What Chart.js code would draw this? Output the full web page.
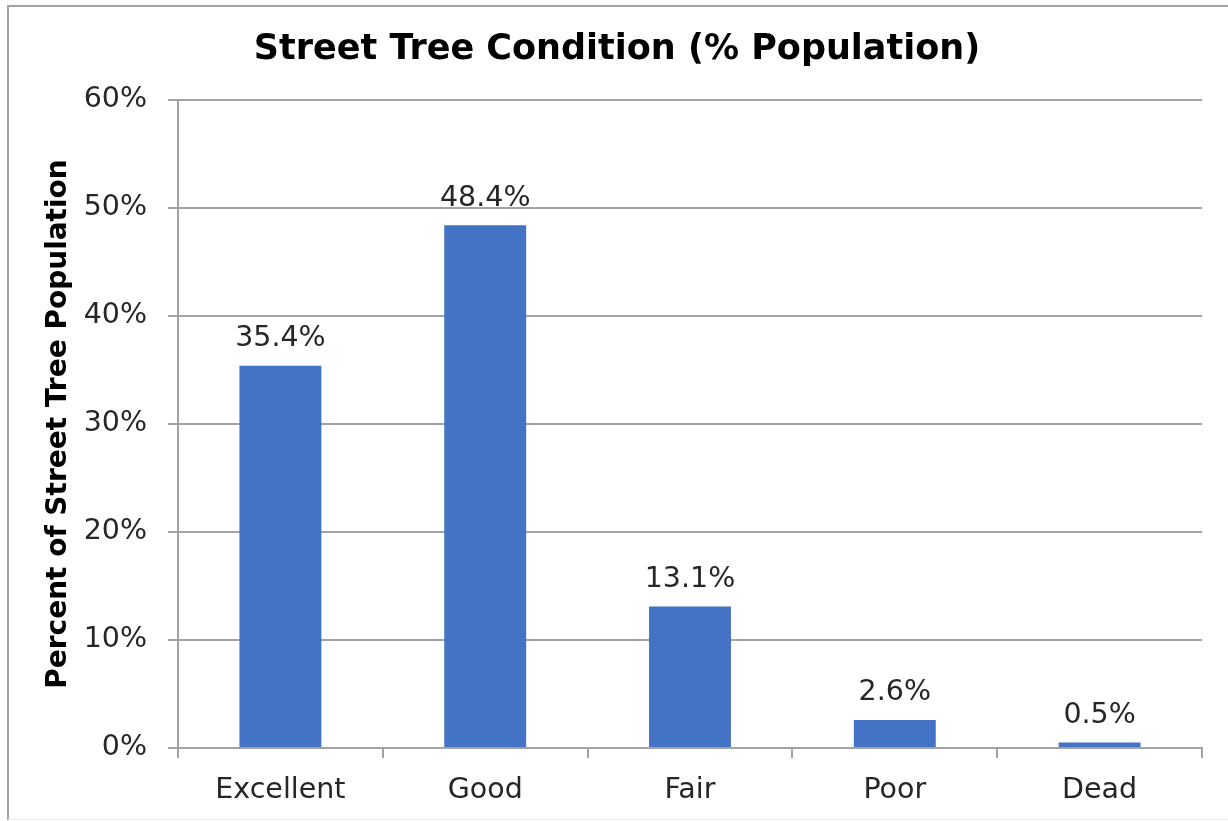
<!DOCTYPE html>
<html>
<head>
<meta charset="utf-8">
<script src="https://cdn.jsdelivr.net/npm/chart.js@4.4.1/dist/chart.umd.min.js"></script>
<style>
  html, body { margin: 0; padding: 0; background: #fff; overflow: hidden; }
  #wrap { position: relative; width: 1228px; height: 821px; overflow: hidden; }
  #frame {
    position: absolute; left: 7px; top: 5px; width: 1240px; height: 812px;
    border-left: 2px solid #a3a3a3; border-top: 2px solid #a3a3a3; border-bottom: 1px solid #ececec;
  }
  #chart { position: absolute; left: 0; top: 0; }
</style>
</head>
<body>
<div id="wrap">
  <div id="frame"></div>
  <canvas id="chart" width="1228" height="821"></canvas>
</div>
<script>
// Street tree condition data
const categories = ['Excellent', 'Good', 'Fair', 'Poor', 'Dead'];
const percentValues = [35.4, 48.4, 13.1, 2.6, 0.5];
const yTicks = [0, 10, 20, 30, 40, 50, 60];

const FONT = "'DejaVu Sans', Verdana, sans-serif";
const TEXT_COLOR = '#262626';
const GRID_COLOR = '#a3a3a3';
const LABEL_SIZE = 28.5;

// Value labels above each bar
const barLabels = {
  id: 'barLabels',
  afterDatasetsDraw(chart) {
    const ctx = chart.ctx;
    const meta = chart.getDatasetMeta(0);
    ctx.save();
    ctx.font = `${LABEL_SIZE}px ${FONT}`;
    ctx.fillStyle = TEXT_COLOR;
    ctx.textAlign = 'center';
    ctx.textBaseline = 'middle';
    meta.data.forEach((bar, i) => {
      ctx.fillText(percentValues[i].toFixed(1) + '%', bar.x, bar.y - 27);
    });
    ctx.restore();
  }
};

new Chart(document.getElementById('chart'), {
  type: 'bar',
  data: {
    labels: categories,
    datasets: [{
      data: percentValues,
      backgroundColor: '#4472c4',
      borderWidth: 0,
      barPercentage: 0.4,
      categoryPercentage: 1
    }]
  },
  options: {
    responsive: false,
    animation: false,
    layout: { padding: { left: 32, right: 26, top: 0, bottom: 0 } },
    plugins: {
      legend: { display: false },
      tooltip: { enabled: false },
      title: {
        display: true,
        text: 'Street Tree Condition (% Population)',
        color: '#000',
        font: { family: FONT, size: 35, weight: 'bold' },
        padding: { top: 29, bottom: 29 }
      }
    },
    scales: {
      x: {
        afterFit(scale) { scale.height = 73; },
        grid: { offset: true, drawOnChartArea: false, drawTicks: true, tickLength: 10, color: GRID_COLOR, lineWidth: 2 },
        border: { color: GRID_COLOR, width: 2 },
        ticks: { color: TEXT_COLOR, font: { family: FONT, size: LABEL_SIZE }, padding: 15 }
      },
      y: {
        min: 0,
        max: 60,
        afterFit(scale) { scale.width = 178 - 32; },
        afterBuildTicks(scale) { scale.ticks = yTicks.map(v => ({ value: v })); },
        grid: { color: GRID_COLOR, lineWidth: 2, tickLength: 10 },
        border: { color: GRID_COLOR, width: 2 },
        ticks: {
          color: TEXT_COLOR,
          font: { family: FONT, size: LABEL_SIZE },
          padding: 21,
          callback: v => v + '%'
        },
        title: {
          display: true,
          text: 'Percent of Street Tree Population',
          color: '#000',
          font: { family: FONT, size: 28, weight: 'bold' },
          padding: { top: 10, bottom: 0 }
        }
      }
    }
  },
  plugins: [barLabels]
});
</script>
</body>
</html>
